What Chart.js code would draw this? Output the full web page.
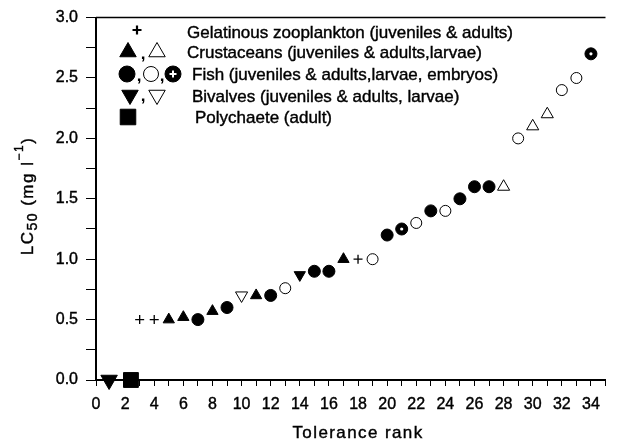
<!DOCTYPE html>
<html>
<head>
<meta charset="utf-8">
<script src="https://cdn.jsdelivr.net/npm/chart.js@4/dist/chart.umd.min.js"></script>
<style>
  html, body { margin: 0; padding: 0; background: #fff; }
  #wrap { width: 617px; height: 445px; position: relative; }
</style>
</head>
<body>
<div id="wrap"><canvas id="lc50" width="617" height="445"></canvas></div>
<script>
// Tolerance rank (x) and LC50 in mg/l (y), grouped by taxon and life stage
const gelatinousRank = [3, 4, 18];
const gelatinousLC50 = [0.5, 0.5, 1.0];

const crustaceanAdultRank = [5, 6, 8, 11, 17];
const crustaceanAdultLC50 = [0.5, 0.52, 0.57, 0.7, 1.0];
const crustaceanLarvaRank = [28, 30, 31];
const crustaceanLarvaLC50 = [1.6, 2.1, 2.2];

const fishAdultRank = [7, 9, 12, 15, 16, 20, 23, 25, 26, 27];
const fishAdultLC50 = [0.5, 0.6, 0.7, 0.9, 0.9, 1.2, 1.4, 1.5, 1.6, 1.6];
const fishLarvaRank = [13, 19, 22, 24, 29, 32, 33];
const fishLarvaLC50 = [0.76, 1.0, 1.3, 1.4, 2.0, 2.4, 2.5];
const fishEmbryoRank = [21, 34];
const fishEmbryoLC50 = [1.25, 2.7];

const bivalveAdultRank = [0.9, 14];
const bivalveAdultLC50 = [0, 0.87];
const bivalveLarvaRank = [10];
const bivalveLarvaLC50 = [0.7];

const polychaeteRank = [2.4];
const polychaeteLC50 = [0];

const legendLabels = [
  'Gelatinous zooplankton (juveniles & adults)',
  'Crustaceans (juveniles & adults,larvae)',
  'Fish (juveniles & adults,larvae, embryos)',
  'Bivalves (juveniles & adults, larvae)',
  'Polychaete (adult)'
];

const yTickValues = ['0.0', '0.5', '1.0', '1.5', '2.0', '2.5', '3.0'];
const xTickValues = [0, 2, 4, 6, 8, 10, 12, 14, 16, 18, 20, 22, 24, 26, 28, 30, 32, 34];

const FONT = '"Liberation Sans", Arial, Helvetica, sans-serif';

function pts(xs, ys) { return xs.map((x, i) => ({ x: x, y: ys[i] })); }

function series(label, xs, ys, style) {
  return Object.assign({
    label: label,
    data: pts(xs, ys),
    showLine: false,
    clip: false,
    order: 1,
    pointBorderColor: '#000',
    pointBackgroundColor: '#000',
    pointBorderWidth: 1,
    pointHoverRadius: style.pointRadius
  }, style);
}

const datasets = [
  // white centre of the embryo markers, drawn on top
  series('Fish embryos (centre)', fishEmbryoRank, fishEmbryoLC50, {
    pointStyle: 'circle', pointRadius: 1.6, pointBackgroundColor: '#fff', pointBorderWidth: 0, order: 0
  }),
  series('Fish embryos', fishEmbryoRank, fishEmbryoLC50, { pointStyle: 'circle', pointRadius: 6 }),
  series('Gelatinous zooplankton', gelatinousRank, gelatinousLC50, {
    pointStyle: 'cross', pointRadius: 4.5, pointBorderWidth: 1.3
  }),
  series('Crustaceans (juveniles & adults)', crustaceanAdultRank, crustaceanAdultLC50, {
    pointStyle: 'triangle', pointRadius: 6.5
  }),
  series('Crustaceans (larvae)', crustaceanLarvaRank, crustaceanLarvaLC50, {
    pointStyle: 'triangle', pointRadius: 7, pointBackgroundColor: '#fff'
  }),
  series('Fish (juveniles & adults)', fishAdultRank, fishAdultLC50, { pointStyle: 'circle', pointRadius: 6 }),
  series('Fish (larvae)', fishLarvaRank, fishLarvaLC50, {
    pointStyle: 'circle', pointRadius: 5.5, pointBackgroundColor: '#fff'
  }),
  series('Bivalves (juveniles & adults)', bivalveAdultRank, bivalveAdultLC50, {
    pointStyle: 'triangle', pointRotation: 180, pointRadius: [9.5, 6.5]
  }),
  series('Bivalves (larvae)', bivalveLarvaRank, bivalveLarvaLC50, {
    pointStyle: 'triangle', pointRotation: 180, pointRadius: 7, pointBackgroundColor: '#fff'
  }),
  series('Polychaete (adult)', polychaeteRank, polychaeteLC50, { pointStyle: 'rect', pointRadius: 10.5 })
];

// text drawn with a faint outline so it carries the same weight as the tick labels
function inkText(ctx, t, x, y) {
  ctx.fillText(t, x, y);
  ctx.strokeText(t, x, y);
}

// Frame line, axis titles and the symbol key inside the plot
const decorations = {
  id: 'decorations',
  afterDraw(chart) {
    const ctx = chart.ctx;
    const a = chart.chartArea;
    const draw = Chart.helpers.drawPoint;
    ctx.save();

    // top frame line
    ctx.strokeStyle = '#000';
    ctx.lineWidth = 1.5;
    ctx.beginPath();
    ctx.moveTo(a.left, a.top);
    ctx.lineTo(a.right, a.top);
    ctx.stroke();

    ctx.fillStyle = '#000';
    ctx.strokeStyle = '#000';
    ctx.lineWidth = 0.4;

    // x axis title
    ctx.font = '17px ' + FONT;
    ctx.letterSpacing = '1.4px';
    ctx.textAlign = 'center';
    ctx.textBaseline = 'middle';
    inkText(ctx, 'Tolerance rank', 358, 433);

    // y axis title with subscript and superscript
    ctx.letterSpacing = '1.5px';
    const parts = [
      { t: 'LC', f: 17, dy: 0 },
      { t: '50', f: 14, dy: 5 },
      { t: ' (mg l', f: 17, dy: 0 },
      { t: '\u22121', f: 12, dy: -8 },
      { t: ')', f: 17, dy: 0 }
    ];
    ctx.translate(28, 196);
    ctx.rotate(-Math.PI / 2);
    let total = 0;
    parts.forEach(p => { ctx.font = p.f + 'px ' + FONT; p.w = ctx.measureText(p.t).width; total += p.w; });
    let px = -total / 2;
    ctx.textAlign = 'left';
    parts.forEach(p => {
      ctx.font = p.f + 'px ' + FONT;
      inkText(ctx, p.t, px, p.dy);
      px += p.w;
    });
    ctx.setTransform(1, 0, 0, 1, 0, 0);
    ctx.letterSpacing = '0px';

    // key symbols
    const filled = (style, x, y, r, rot) => {
      ctx.fillStyle = '#000'; ctx.strokeStyle = '#000'; ctx.lineWidth = 1;
      draw(ctx, { pointStyle: style, radius: r, rotation: rot || 0, borderWidth: 1 }, x, y);
    };
    const open = (style, x, y, r, rot) => {
      ctx.fillStyle = '#fff'; ctx.strokeStyle = '#000'; ctx.lineWidth = 1;
      draw(ctx, { pointStyle: style, radius: r, rotation: rot || 0, borderWidth: 1 }, x, y);
    };
    const rows = [33, 53, 75, 97, 118];

    ctx.strokeStyle = '#000'; ctx.lineWidth = 2.2;
    draw(ctx, { pointStyle: 'cross', radius: 4.5, rotation: 0, borderWidth: 2.2 }, 137, 30);

    filled('triangle', 128, 52, 9.5);
    open('triangle', 157, 52, 9.5);

    filled('circle', 127, 74, 8);
    open('circle', 151, 74, 7.5);
    filled('circle', 173, 74, 8);
    ctx.strokeStyle = '#fff'; ctx.lineWidth = 2;
    ctx.beginPath();
    ctx.moveTo(169.5, 74); ctx.lineTo(176.5, 74);
    ctx.moveTo(173, 70.5); ctx.lineTo(173, 77.5);
    ctx.stroke();

    filled('triangle', 130, 95, 9.5, 180);
    open('triangle', 157, 95, 9.5, 180);

    filled('rect', 128, 117, 11);

    // commas between symbols
    ctx.fillStyle = '#000';
    ctx.font = 'bold 17px ' + FONT;
    ctx.textAlign = 'center';
    ctx.textBaseline = 'alphabetic';
    ctx.fillText(',', 143, 59);
    ctx.fillText(',', 139, 81);
    ctx.fillText(',', 162, 81);
    ctx.fillText(',', 143, 101);

    // key labels
    ctx.font = '17px ' + FONT;
    ctx.strokeStyle = '#000';
    ctx.lineWidth = 0.4;
    ctx.textAlign = 'left';
    ctx.textBaseline = 'middle';
    const labelX = [187, 187, 192, 192, 195];
    legendLabels.forEach((t, i) => inkText(ctx, t, labelX[i], rows[i]));

    ctx.restore();
  }
};

new Chart(document.getElementById('lc50'), {
  type: 'scatter',
  data: { datasets: datasets },
  plugins: [decorations],
  options: {
    responsive: false,
    devicePixelRatio: 1,
    animation: false,
    events: [],
    layout: { padding: { top: 14, right: 0, left: 0, bottom: 0 } },
    plugins: { legend: { display: false }, tooltip: { enabled: false } },
    scales: {
      x: {
        type: 'linear',
        min: 0,
        max: 35,
        afterFit(scale) { scale.height = 65; },
        ticks: {
          stepSize: 1,
          autoSkip: false,
          maxRotation: 0,
          padding: 9,
          color: '#000',
          textStrokeColor: '#000',
          textStrokeWidth: 0.4,
          font: { family: FONT, size: 16 },
          callback: v => (xTickValues.indexOf(v) >= 0 ? String(v) : '')
        },
        grid: { drawOnChartArea: false, drawTicks: true, tickLength: 6, color: '#000', lineWidth: 1 },
        border: { display: true, color: '#000', width: 2 }
      },
      y: {
        min: 0,
        max: 3,
        afterFit(scale) { scale.width = 96; },
        ticks: {
          stepSize: 0.25,
          autoSkip: false,
          padding: 8,
          color: '#000',
          textStrokeColor: '#000',
          textStrokeWidth: 0.4,
          font: { family: FONT, size: 16 },
          callback: v => {
            const s = v.toFixed(1);
            return (Math.abs(v * 2 - Math.round(v * 2)) < 1e-6 && yTickValues.indexOf(s) >= 0) ? s : '';
          }
        },
        grid: { drawOnChartArea: false, drawTicks: true, tickLength: 10, color: '#000', lineWidth: 1 },
        border: { display: true, color: '#000', width: 2 }
      }
    }
  }
});
</script>
</body>
</html>
